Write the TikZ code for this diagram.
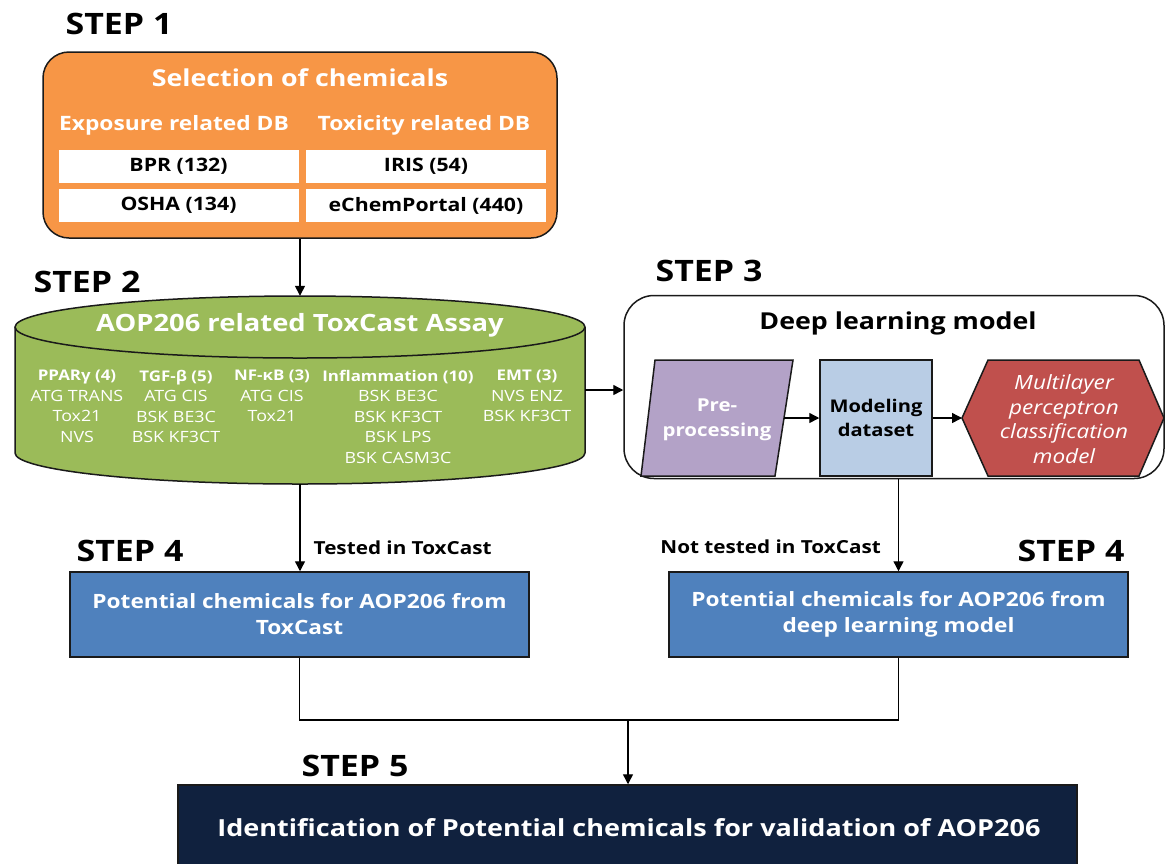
\documentclass[tikz,border=0pt]{standalone}
\usepackage{fontspec}
\setmainfont{Open Sans}[FakeStretch=1.15]
\usetikzlibrary{arrows.meta}
\definecolor{orangeF}{HTML}{F79646}
\definecolor{greenF}{HTML}{9BBB59}
\definecolor{purpleF}{HTML}{B3A2C7}
\definecolor{lblueF}{HTML}{B9CDE5}
\definecolor{redF}{HTML}{C0504D}
\definecolor{blueF}{HTML}{4F81BD}
\definecolor{navyF}{HTML}{10213E}
\definecolor{edgeC}{HTML}{1A1A1A}
\tikzset{
  steplabel/.style={font=\fontsize{29.5}{34}\selectfont\bfseries, inner sep=0pt, text=black},
  box/.style={draw=edgeC, line width=1.5pt, inner sep=0pt},
  whitecell/.style={fill=white, minimum width=240pt, minimum height=33pt, inner sep=0pt, font=\fontsize{18.5}{22}\selectfont\bfseries},
  coltext/.style={font=\fontsize{15.5}{20.5}\selectfont, text=white, align=center, inner sep=0pt, anchor=north},
  conn/.style={line width=1.4pt, draw=black},
  arr/.style={conn, -{Triangle[length=10pt,width=10pt]}},
  lbl/.style={font=\fontsize{18}{21}\selectfont\bfseries, inner sep=0pt},
}
\begin{document}
\begin{tikzpicture}[x=1pt,y=-1pt]
\useasboundingbox[fill=white] (0,0) rectangle (1166,863);

% STEP 1
\node[steplabel] (s1) at (119,24) {STEP 1};
\node[box, fill=orangeF, rounded corners=26pt, minimum width=514pt, minimum height=186pt] (sel) at (300,145) {};
\node[font=\fontsize{23.3}{28}\selectfont\bfseries, text=white, inner sep=0pt] (selt) at (300,78) {Selection of chemicals};
\node[font=\fontsize{19.8}{24}\selectfont\bfseries, text=white, inner sep=0pt] (exp) at (174,125) {Exposure related DB};
\node[font=\fontsize{19.8}{24}\selectfont\bfseries, text=white, inner sep=0pt] (tox) at (424,125) {Toxicity related DB};
\node[whitecell] (bpr) at (178.5,166.5) {BPR (132)};
\node[whitecell] (iris) at (426,166.5) {IRIS (54)};
\node[whitecell] (osha) at (178.5,205.5) {OSHA (134)};
\node[whitecell] (echem) at (426,205.5) {eChemPortal (440)};

% STEP 2 cylinder
\node[steplabel] (s2) at (87,282) {STEP 2};
\fill[greenF] (15,327) -- (15,453) arc[start angle=180,end angle=360,x radius=285pt,y radius=31pt]
  -- (585,327) arc[start angle=0,end angle=180,x radius=285pt,y radius=31pt] -- cycle;
\draw[edgeC, line width=1.5pt] (15,327) -- (15,453) arc[start angle=180,end angle=360,x radius=285pt,y radius=31pt] -- (585,327);
\draw[edgeC, line width=1.5pt] (300,327) ellipse[x radius=285pt, y radius=31pt];
\node[minimum width=570pt, minimum height=188pt, inner sep=0pt] (cyl) at (300,390) {};
\node[font=\fontsize{23.8}{28}\selectfont\bfseries, text=white, inner sep=0pt] (aop) at (300,325) {AOP206 related ToxCast Assay};
\node[coltext] (c1) at (77,370) {{\fontsize{14.7}{20.5}\selectfont\bfseries PPARγ (4)}\\ATG TRANS\\Tox21\\NVS};
\node[coltext] (c2) at (176,370) {{\fontsize{14.7}{20.5}\selectfont\bfseries TGF-β (5)}\\ATG CIS\\BSK BE3C\\BSK KF3CT};
\node[coltext] (c3) at (272,370) {{\fontsize{14.7}{20.5}\selectfont\bfseries NF-κB (3)}\\ATG CIS\\Tox21};
\node[coltext] (c4) at (398,370) {{\fontsize{14.7}{20.5}\selectfont\bfseries Inflammation (10)}\\BSK BE3C\\BSK KF3CT\\BSK LPS\\BSK CASM3C};
\node[coltext] (c5) at (527,370) {{\fontsize{14.7}{20.5}\selectfont\bfseries EMT (3)}\\NVS ENZ\\BSK KF3CT};

% STEP 3
\node[steplabel] (s3) at (709,271) {STEP 3};
\node[box, fill=white, rounded corners=30pt, minimum width=540pt, minimum height=183pt] (dl) at (894,387) {};
\node[font=\fontsize{23.3}{28}\selectfont\bfseries, inner sep=0pt] (dlt) at (898,323) {Deep learning model};
\draw[box, fill=purpleF] (655,360) -- (793,360) -- (775,476) -- (641,476) -- cycle;
\node[font=\fontsize{17.8}{25}\selectfont\bfseries, text=white, align=center, inner sep=0pt] (pre) at (717,420) {Pre-\\processing};
\coordinate (preE) at (784,418);
\node[box, fill=lblueF, minimum width=112pt, minimum height=116pt, font=\fontsize{17.5}{24}\selectfont\bfseries, align=center] (mod) at (876,418) {Modeling\\dataset};
\draw[box, fill=redF] (962,418) -- (988,360) -- (1139,360) -- (1164,418) -- (1139,476) -- (988,476) -- cycle;
\coordinate (hexW) at (962,418);
\node[font=\fontsize{19.6}{24.5}\selectfont\itshape, text=white, align=center, inner sep=0pt] (mlp) at (1064,419) {Multilayer\\perceptron\\classification\\model};

% STEP 4
\node[steplabel] (s4a) at (130,551) {STEP 4};
\node[steplabel] (s4b) at (1071,551) {STEP 4};
\node[box, fill=blueF, minimum width=459pt, minimum height=85pt, font=\fontsize{19.7}{26}\selectfont\bfseries, text=white, align=center] (p1) at (299.5,614.5) {Potential chemicals for AOP206 from\\ToxCast};
\node[box, fill=blueF, minimum width=459pt, minimum height=85pt, font=\fontsize{19.7}{26}\selectfont\bfseries, text=white, align=center] (p2) at (898.5,614.5) {Potential chemicals for AOP206 from\\deep learning model};

% STEP 5
\node[steplabel] (s5) at (355,766) {STEP 5};
\node[draw=edgeC, line width=1.5pt, fill=navyF, minimum width=899pt, minimum height=100pt, inner sep=0pt] (fin) at (627.5,835) {};
\node[font=\fontsize{23.5}{28}\selectfont\bfseries, text=white, inner sep=0pt] (fint) at (629,828) {Identification of Potential chemicals for validation of AOP206};

% connectors
\draw[arr] (sel.south) -- (cyl.north);
\draw[arr] (cyl.east) -- (cyl.east -| dl.west);
\draw[arr] (preE) -- (mod.west);
\draw[arr] (mod.east) -- (hexW);
\draw[arr] (cyl.south) -- (cyl.south |- p1.north) node[lbl, pos=0.73, anchor=west, xshift=13pt] (t1) {Tested in ToxCast};
\draw[arr] (dl.south -| p2.north) -- (p2.north) node[lbl, pos=0.73, anchor=east, xshift=-17pt] (t2) {Not tested in ToxCast};
\coordinate (join) at (628,720);
\draw[conn] (p1.south) |- (join) -| (p2.south);
\draw[arr] (join) -- (join |- fin.north);
\end{tikzpicture}
\end{document}
